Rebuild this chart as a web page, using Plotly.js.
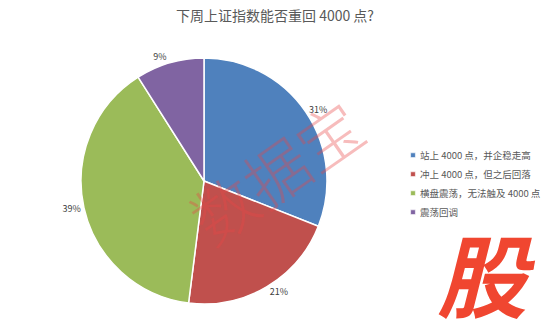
<!DOCTYPE html>
<html><head><meta charset="utf-8">
<script src="https://cdn.plot.ly/plotly-3.0.1.min.js"></script>
<style>body{margin:0;background:#fff}#chart{width:550px;height:328px}</style>
</head><body><div id="chart"></div>
<script>
const categories = ["站上 4000 点，并企稳走高", "冲上 4000 点，但之后回落", "横盘震荡，无法触及 4000 点", "震荡回调"];
const values = [31, 21, 39, 9];
const colors = ["#4F81BD", "#C0504D", "#9BBB59", "#8064A2"];
const titleText = "下周上证指数能否重回 4000 点?";
const watermark = "数据宝";
const logo = "股";
const FONT = "'Noto Sans CJK SC', 'Liberation Sans', sans-serif";

const trace = {
  type: "pie",
  labels: categories,
  values: values,
  sort: false,
  direction: "clockwise",
  rotation: 0,
  marker: {colors: colors, line: {color: "#ffffff", width: 1.5}},
  texttemplate: "%{value}%",
  textposition: "outside",
  textfont: {size: 9, color: "#404040", family: FONT},
  hoverinfo: "label+percent",
  domain: {x: [0.1473, 0.5945], y: [0.0732, 0.8232]}
};

const layout = {
  width: 550, height: 328,
  margin: {l: 0, r: 0, t: 0, b: 0},
  paper_bgcolor: "#ffffff",
  font: {family: FONT},
  title: {text: titleText, x: 0.5, xanchor: "center", y: 0.95, yanchor: "middle",
          font: {size: 14, color: "#595959", family: FONT}},
  showlegend: true,
  legend: {x: 1, y: 0.571, xanchor: "right", yanchor: "top",
           font: {size: 9.5, color: "#595959", family: FONT},
           itemwidth: 30, tracegroupgap: 0, bgcolor: "rgba(0,0,0,0)"},
  annotations: [
    {text: watermark, xref: "paper", yref: "paper", x: 0.5, y: 0.482, xanchor: "center", yanchor: "middle",
     showarrow: false, textangle: -35,
     font: {size: 64, color: "rgba(232,70,70,0.36)", family: FONT, weight: 300}},
    {text: "<b><i>" + logo + "</i></b>", xref: "paper", yref: "paper", x: 0.885, y: 0.172,
     xanchor: "center", yanchor: "middle", showarrow: false,
     font: {size: 90, color: "#F04630", family: FONT}}
  ]
};

Plotly.newPlot("chart", [trace], layout, {displayModeBar: false, staticPlot: true}).then(function () {
  document.querySelectorAll("#chart .legend .legendpoints path").forEach(function (p) {
    p.setAttribute("transform", "translate(29,0) scale(0.4)");
  });
  document.querySelectorAll("#chart .legend .legendtext").forEach(function (t) {
    t.setAttribute("transform", "translate(-4,0)");
  });
});
</script></body></html>
